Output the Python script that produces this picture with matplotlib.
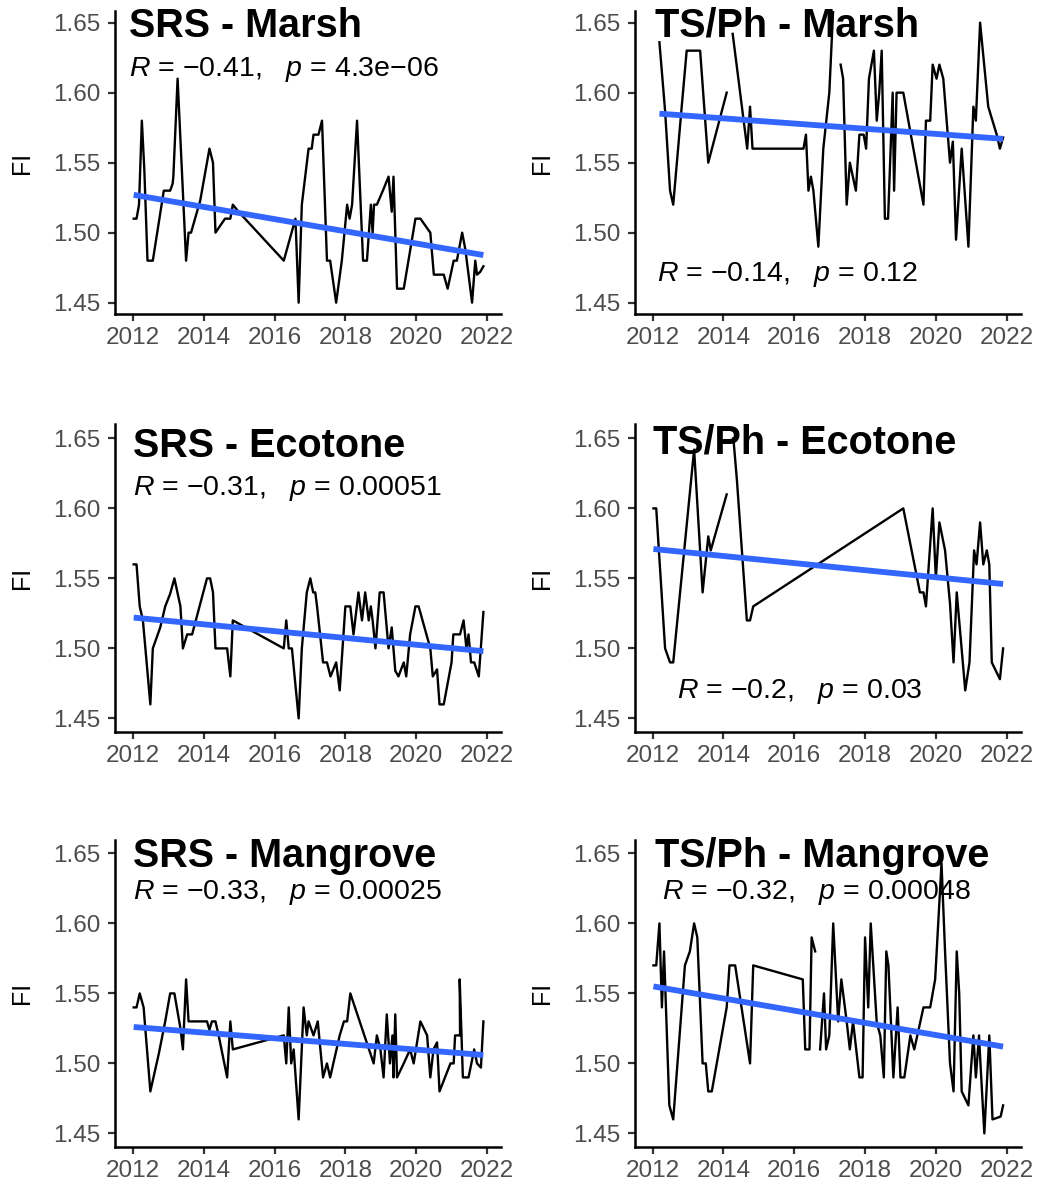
"""Fluorescence index (FI) time series by transect and habitat, 2012-2022."""

import matplotlib

matplotlib.use("Agg", force=True)
import matplotlib.pyplot as plt
import numpy as np

nan = np.nan

# SRS - Marsh
srs_marsh_year = [2012.02, 2012.10, 2012.17, 2012.25, 2012.32, 2012.41, 2012.56, 2012.87, 2013.05, 2013.12,
                  2013.14, 2013.26, 2013.50, 2013.57, 2013.64, 2013.90, 2014.16, 2014.26, 2014.33, 2014.60,
                  2014.75, 2014.82, 2014.98, 2016.26, 2016.59, 2016.68, 2016.77, 2016.96, 2017.05, 2017.10,
                  2017.24, 2017.34, 2017.48, 2017.57, 2017.74, 2017.90, 2018.05, 2018.12, 2018.19, 2018.33,
                  2018.50, 2018.61, 2018.72, 2018.77, 2018.81, 2018.89, 2019.06, 2019.22, 2019.31, 2019.36,
                  2019.46, 2019.65, 2019.98, 2020.12, 2020.40, 2020.50, 2020.78, 2020.89, 2021.06, 2021.15,
                  2021.30, 2021.39, 2021.58, 2021.67, 2021.72, 2021.81, 2021.90]
srs_marsh_fi = [1.51, 1.51, 1.52, 1.58, 1.545, 1.48, 1.48, 1.53, 1.53, 1.535,
                1.54, 1.61, 1.48, 1.50, 1.50, 1.523, 1.56, 1.55, 1.50, 1.51,
                1.51, 1.52, 1.515, 1.48, 1.51, 1.45, 1.52, 1.56, 1.56, 1.57,
                1.57, 1.58, 1.48, 1.48, 1.45, 1.48, 1.52, 1.51, 1.52, 1.58,
                1.48, 1.48, 1.52, 1.50, 1.52, 1.52, 1.53, 1.54, 1.515, 1.54,
                1.46, 1.46, 1.51, 1.51, 1.50, 1.47, 1.47, 1.46, 1.48, 1.48,
                1.50, 1.488, 1.45, 1.48, 1.47, 1.472, 1.476]

# TS/Ph - Marsh
ts_marsh_year = [2012.19, 2012.35, 2012.49, 2012.58, 2012.82, 2012.96, 2013.34, 2013.57, 2014.09, 2014.18,
                 2014.26, 2014.67, 2014.75, 2014.82, 2016.26, 2016.33, 2016.40, 2016.47, 2016.54, 2016.68,
                 2016.82, 2016.99, 2017.10, 2017.20, 2017.31, 2017.38, 2017.48, 2017.57, 2017.74, 2017.84,
                 2017.96, 2018.03, 2018.11, 2018.25, 2018.33, 2018.40, 2018.47, 2018.56, 2018.65, 2018.78,
                 2018.82, 2018.89, 2019.08, 2019.65, 2019.72, 2019.84, 2019.91, 2020.02, 2020.10, 2020.21,
                 2020.40, 2020.48, 2020.57, 2020.73, 2020.92, 2021.06, 2021.13, 2021.25, 2021.48, 2021.72,
                 2021.81, 2021.90]
ts_marsh_fi = [1.636, 1.587, 1.53, 1.52, 1.59, 1.63, 1.63, 1.55, 1.60, nan,
               1.642, 1.56, 1.59, 1.56, 1.56, 1.57, 1.53, 1.54, 1.53, 1.49,
               1.56, 1.60, 1.66, nan, 1.62, 1.61, 1.52, 1.55, 1.53, 1.57,
               1.57, 1.56, 1.61, 1.63, 1.58, 1.60, 1.63, 1.51, 1.51, 1.60,
               1.53, 1.60, 1.60, 1.52, 1.58, 1.58, 1.62, 1.61, 1.62, 1.61,
               1.55, 1.565, 1.495, 1.56, 1.49, 1.59, 1.58, 1.65, 1.59, 1.57,
               1.56, 1.568]

# SRS - Ecotone
srs_eco_year = [2012.02, 2012.10, 2012.19, 2012.28, 2012.49, 2012.56, 2012.77, 2012.91, 2013.05, 2013.17,
                2013.34, 2013.41, 2013.53, 2013.67, 2014.09, 2014.18, 2014.26, 2014.33, 2014.66, 2014.75,
                2014.82, 2016.26, 2016.33, 2016.40, 2016.49, 2016.68, 2016.77, 2016.91, 2017.01, 2017.09,
                2017.15, 2017.20, 2017.37, 2017.48, 2017.58, 2017.74, 2017.84, 2018.00, 2018.14, 2018.23,
                2018.37, 2018.47, 2018.56, 2018.66, 2018.72, 2018.77, 2018.85, 2018.97, 2019.08, 2019.22,
                2019.31, 2019.41, 2019.50, 2019.65, 2019.72, 2019.83, 2019.98, 2020.07, 2020.40, 2020.47,
                2020.59, 2020.66, 2020.78, 2021.00, 2021.05, 2021.24, 2021.34, 2021.42, 2021.48, 2021.55,
                2021.64, 2021.77, 2021.90]
srs_eco_fi = [1.56, 1.56, 1.53, 1.52, 1.46, 1.50, 1.515, 1.53, 1.539, 1.55,
              1.53, 1.50, 1.51, 1.51, 1.55, 1.55, 1.54, 1.50, 1.50, 1.48,
              1.52, 1.50, 1.52, 1.50, 1.50, 1.45, 1.50, 1.54, 1.55, 1.54,
              1.54, 1.53, 1.49, 1.49, 1.48, 1.49, 1.47, 1.53, 1.53, 1.51,
              1.54, 1.52, 1.54, 1.52, 1.53, 1.52, 1.50, 1.54, 1.54, 1.50,
              1.515, 1.484, 1.48, 1.49, 1.48, 1.51, 1.53, 1.53, 1.50, 1.48,
              1.485, 1.46, 1.46, 1.49, 1.51, 1.51, 1.52, 1.50, 1.51, 1.49,
              1.49, 1.48, 1.526]

# TS/Ph - Ecotone
ts_eco_year = [2012.02, 2012.10, 2012.35, 2012.49, 2012.58, 2013.17, 2013.41, 2013.57, 2013.64, 2014.09,
               2014.18, 2014.28, 2014.38, 2014.66, 2014.75, 2014.84, 2019.08, 2019.55, 2019.65, 2019.72,
               2019.91, 2020.00, 2020.10, 2020.26, 2020.40, 2020.50, 2020.59, 2020.83, 2020.95, 2021.08,
               2021.15, 2021.25, 2021.34, 2021.44, 2021.51, 2021.58, 2021.81, 2021.90]
ts_eco_fi = [1.60, 1.60, 1.50, 1.49, 1.49, 1.642, 1.54, 1.58, 1.57, 1.61,
             nan, 1.65, 1.62, 1.52, 1.52, 1.53, 1.60, 1.54, 1.54, 1.53,
             1.60, 1.55, 1.59, 1.57, 1.532, 1.49, 1.54, 1.47, 1.49, 1.57,
             1.56, 1.59, 1.56, 1.57, 1.56, 1.49, 1.478, 1.50]

# SRS - Mangrove
srs_man_year = [2012.02, 2012.10, 2012.19, 2012.30, 2012.49, 2012.73, 2012.91, 2013.05, 2013.17, 2013.34,
                2013.41, 2013.50, 2013.57, 2014.09, 2014.16, 2014.23, 2014.33, 2014.42, 2014.66, 2014.75,
                2014.82, 2016.26, 2016.33, 2016.40, 2016.47, 2016.54, 2016.68, 2016.82, 2016.91, 2016.96,
                2017.10, 2017.22, 2017.37, 2017.48, 2017.57, 2017.84, 2017.96, 2018.05, 2018.14, 2018.80,
                2018.89, 2018.99, 2019.08, 2019.17, 2019.26, 2019.33, 2019.36, 2019.41, 2019.46, 2019.65,
                2019.83, 2019.93, 2020.12, 2020.31, 2020.40, 2020.49, 2020.59, 2020.66, 2020.97, 2021.06,
                2021.10, 2021.24, 2021.23, 2021.32, 2021.48, 2021.64, 2021.72, 2021.83, 2021.90]
srs_man_fi = [1.54, 1.54, 1.55, 1.54, 1.48, 1.507, 1.53, 1.55, 1.55, 1.525,
              1.51, 1.56, 1.53, 1.53, 1.524, 1.53, 1.53, 1.52, 1.49, 1.53,
              1.51, 1.52, 1.50, 1.54, 1.50, 1.51, 1.46, 1.54, 1.52, 1.53,
              1.52, 1.53, 1.49, 1.50, 1.49, 1.52, 1.53, 1.53, 1.55, 1.50,
              1.52, 1.51, 1.49, 1.535, 1.50, 1.52, 1.49, 1.535, 1.49, 1.50,
              1.51, 1.50, 1.53, 1.52, 1.49, 1.51, 1.515, 1.48, 1.50, 1.50,
              1.52, 1.52, 1.56, 1.49, 1.49, 1.51, 1.50, 1.497, 1.53]

# TS/Ph - Mangrove
ts_man_year = [2012.02, 2012.10, 2012.19, 2012.26, 2012.32, 2012.47, 2012.58, 2012.91, 2013.05, 2013.17,
               2013.26, 2013.41, 2013.50, 2013.57, 2013.67, 2014.09, 2014.17, 2014.33, 2014.75, 2014.84,
               2016.24, 2016.31, 2016.43, 2016.49, 2016.59, 2016.66, 2016.73, 2016.84, 2016.90, 2016.99,
               2017.10, 2017.24, 2017.33, 2017.48, 2017.57, 2017.66, 2017.84, 2017.93, 2018.00, 2018.09,
               2018.16, 2018.33, 2018.43, 2018.53, 2018.60, 2018.66, 2018.80, 2018.92, 2019.00, 2019.11,
               2019.28, 2019.39, 2019.65, 2019.84, 2019.98, 2020.16, 2020.26, 2020.40, 2020.50, 2020.59,
               2020.66, 2020.73, 2020.92, 2021.06, 2021.13, 2021.22, 2021.26, 2021.37, 2021.51, 2021.60,
               2021.83, 2021.90]
ts_man_fi = [1.57, 1.57, 1.60, 1.54, 1.58, 1.47, 1.46, 1.57, 1.58, 1.60,
             1.59, 1.50, 1.50, 1.48, 1.48, 1.54, 1.57, 1.57, 1.50, 1.57,
             1.56, 1.51, 1.51, 1.59, 1.58, nan, 1.51, 1.55, 1.51, 1.52,
             1.60, 1.53, 1.56, 1.53, 1.51, 1.53, 1.49, 1.49, 1.59, 1.54,
             1.60, 1.529, 1.52, 1.49, 1.58, 1.57, 1.49, 1.54, 1.49, 1.49,
             1.52, 1.51, 1.54, 1.54, 1.56, 1.643, 1.58, 1.50, 1.48, 1.58,
             1.55, 1.48, 1.47, 1.52, 1.49, 1.52, 1.50, 1.45, 1.52, 1.46,
             1.462, 1.47]

titles = ["SRS - Marsh", "TS/Ph - Marsh", "SRS - Ecotone", "TS/Ph - Ecotone",
          "SRS - Mangrove", "TS/Ph - Mangrove"]
r_values = ["-0.41", "-0.14", "-0.31", "-0.2", "-0.33", "-0.32"]
p_values = ["4.3e-06", "0.12", "0.00051", "0.03", "0.00025", "0.00048"]

# Linear fit (geom_smooth, method = "lm") value at first and last sample
fit_start = [1.527, 1.585, 1.522, 1.571, 1.526, 1.555]
fit_end = [1.484, 1.567, 1.498, 1.546, 1.506, 1.512]

years = [srs_marsh_year, ts_marsh_year, srs_eco_year, ts_eco_year, srs_man_year, ts_man_year]
values = [srs_marsh_fi, ts_marsh_fi, srs_eco_fi, ts_eco_fi, srs_man_fi, ts_man_fi]

x_ticks = [2012, 2014, 2016, 2018, 2020, 2022]
y_ticks = [1.45, 1.50, 1.55, 1.60, 1.65]

# label anchors (x, baseline y) for the stat_cor text
stat_pos = [(2011.89, 1.612), (2012.11, 1.4655), (2012.0, 1.6095),
            (2012.68, 1.4643), (2012.0, 1.6174), (2012.25, 1.6174)]
title_y = [1.6398, 1.6398, 1.6369, 1.639, 1.6404, 1.6404]
title_x = [2011.89, 2012.07, 2012.0, 2012.02, 2012.0, 2012.07]

plt.rcParams["font.family"] = ["Liberation Sans", "DejaVu Sans"]
plt.rcParams["mathtext.fontset"] = "custom"
plt.rcParams["mathtext.rm"] = "Liberation Sans"
plt.rcParams["mathtext.it"] = "Liberation Sans:italic"

W, H = 1041, 1187
fig = plt.figure(figsize=(W / 100, H / 100), dpi=100)

PX_PER_UNIT = 1400.0           # vertical pixels per FI unit
col_left = [115.3, 635.0]
ax_w = 385.8
row_ylim = [(1.4419, 1.6584), (1.4405, 1.6605), (1.4405, 1.6597)]
row_bottom = [314.0, 731.7, 1146.7]

for i, title in enumerate(titles):
    row, col = divmod(i, 2)
    lo, hi = row_ylim[row]
    ax_h = (hi - lo) * PX_PER_UNIT
    ax = fig.add_axes([col_left[col] / W, 1 - row_bottom[row] / H, ax_w / W, ax_h / H])
    ax.plot(years[i], values[i], color="black", lw=1.7, zorder=2)
    ax.plot([years[i][0], years[i][-1]], [fit_start[i], fit_end[i]],
            color="#3366FF", lw=4.2, solid_capstyle="butt", zorder=3)

    ax.set_xlim(2011.5, 2022.4)
    ax.set_ylim(lo, hi)
    ax.set_xticks(x_ticks)
    ax.set_yticks(y_ticks)
    ax.set_yticklabels([f"{t:.2f}" for t in y_ticks])
    ax.tick_params(labelsize=17.5, labelcolor="#4D4D4D", color="#333333",
                   length=5, width=1.6)
    ax.tick_params(axis="x", pad=4.5)
    ax.tick_params(axis="y", pad=5.5)
    for side in ["top", "right"]:
        ax.spines[side].set_visible(False)
    for side in ["left", "bottom"]:
        ax.spines[side].set_linewidth(1.8)
    ax.set_ylabel("FI", fontsize=18, labelpad=14)

    ax.text(title_x[i], title_y[i], title, fontsize=28.5, fontweight="bold", va="baseline", ha="left")
    r_txt = r_values[i].replace("-", "$-$")
    p_txt = p_values[i].replace("-", "$-$")
    ax.text(stat_pos[i][0], stat_pos[i][1], rf"$R$ = {r_txt},   $p$ = {p_txt}",
            fontsize=20.5, va="baseline", ha="left")

fig.savefig("out.png", dpi=100)
